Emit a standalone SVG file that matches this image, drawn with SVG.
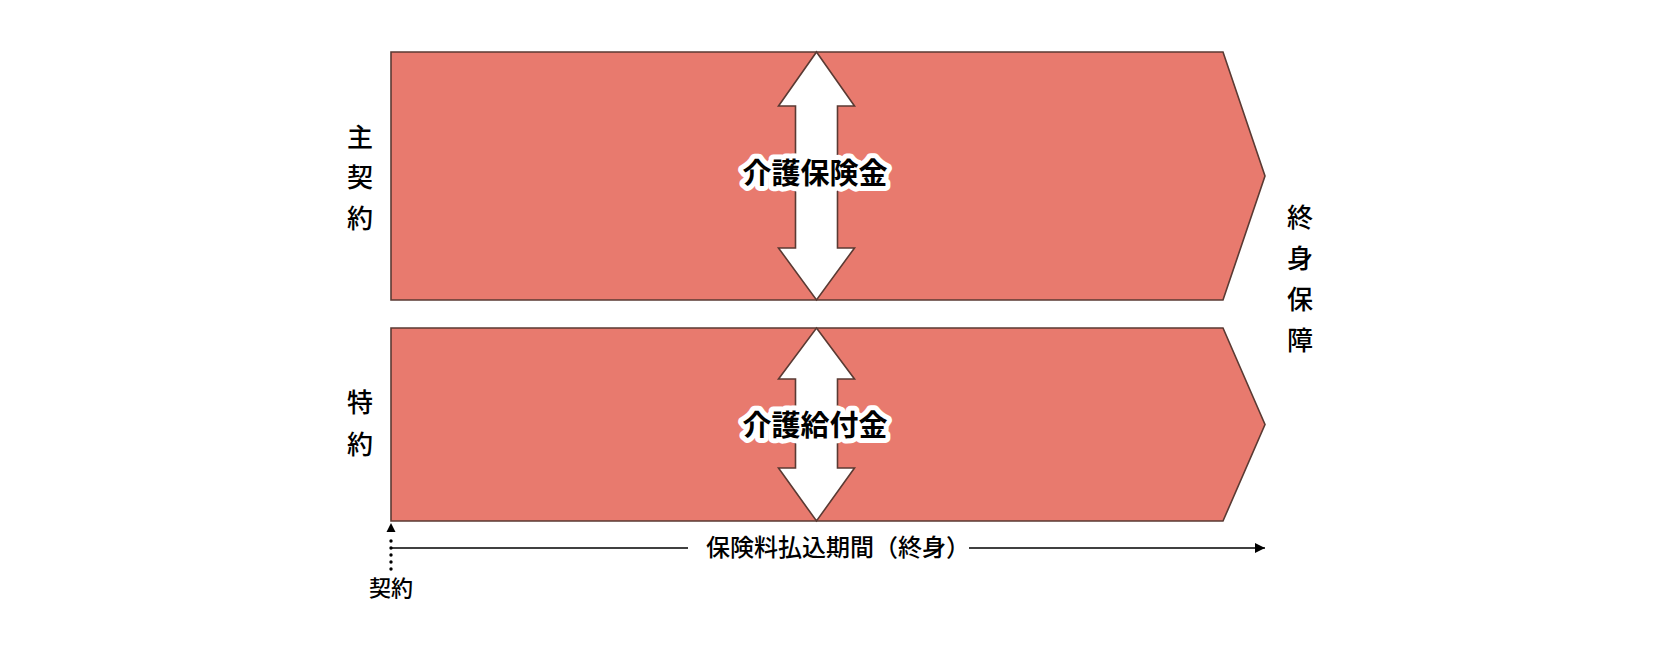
<svg xmlns="http://www.w3.org/2000/svg" width="1660" height="650" viewBox="0 0 1660 650">
<defs>
<style>
.box{fill:#e87a6e;stroke:#5a3a33;stroke-width:1.6;stroke-linejoin:miter}
.arr{fill:#ffffff;stroke:#5a3a33;stroke-width:1.6;stroke-linejoin:miter}
.lbl{font-family:"Noto Sans CJK JP","Noto Sans",sans-serif;font-size:26px;font-weight:500;fill:#000;text-anchor:middle}
.sm{font-family:"Noto Sans CJK JP","Noto Sans",sans-serif;font-size:24px;font-weight:500;fill:#000}
.ctr{font-family:"Noto Sans CJK JP","Noto Sans",sans-serif;font-size:29px;font-weight:bold;fill:#000;text-anchor:middle;stroke:#fff;stroke-width:10;stroke-linejoin:round;paint-order:stroke fill}
.ln{stroke:#000;stroke-width:1.6;fill:none}
</style>
<marker id="ah" markerWidth="10" markerHeight="10" refX="10" refY="5" orient="auto" markerUnits="userSpaceOnUse">
<path d="M0,0 L10,5 L0,10 Z" fill="#000"/>
</marker>
</defs>
<rect width="1660" height="650" fill="#fff"/>
<g id="main-contract">
<polygon class="box" points="391,52 1223,52 1265,176 1223,300 391,300"/>
<polygon class="arr" points="816.5,52 854.5,106 837.5,106 837.5,248 854.5,248 816.5,300 778.5,248 795.5,248 795.5,106 778.5,106"/>
<text class="ctr" x="815" y="184">介護保険金</text>
</g>
<g id="rider">
<polygon class="box" points="391,328 1223,328 1265,424.5 1223,521 391,521"/>
<polygon class="arr" points="816.5,328 854.5,379 837.5,379 837.5,468 854.5,468 816.5,521 778.5,468 795.5,468 795.5,379 778.5,379"/>
<text class="ctr" x="815" y="436">介護給付金</text>
</g>
<g id="label-main">
<text class="lbl" x="360" y="147">主</text>
<text class="lbl" x="360" y="187">契</text>
<text class="lbl" x="360" y="228">約</text>
</g>
<g id="label-rider">
<text class="lbl" x="360" y="412">特</text>
<text class="lbl" x="360" y="454">約</text>
</g>
<g id="label-lifetime">
<text class="lbl" x="1300" y="226.5">終</text>
<text class="lbl" x="1300" y="267.5">身</text>
<text class="lbl" x="1300" y="308.5">保</text>
<text class="lbl" x="1300" y="349.5">障</text>
</g>
<g id="label-contract">
<text class="sm" x="391" y="596" style="font-size:22px" text-anchor="middle">契約</text>
</g>
<g id="label-period">
<text class="sm" x="706" y="556">保険料払込期間（終身）</text>
</g>
<g id="connectors">
<line x1="391" y1="569" x2="391" y2="534" stroke="#000" stroke-width="3.4" stroke-linecap="round" stroke-dasharray="0,7"/>
<path d="M391,523 L395.5,532 L386.5,532 Z" fill="#000"/>
<line class="ln" x1="391" y1="548" x2="688" y2="548"/>
<line class="ln" x1="969" y1="548" x2="1265" y2="548" marker-end="url(#ah)"/>
</g>
</svg>
